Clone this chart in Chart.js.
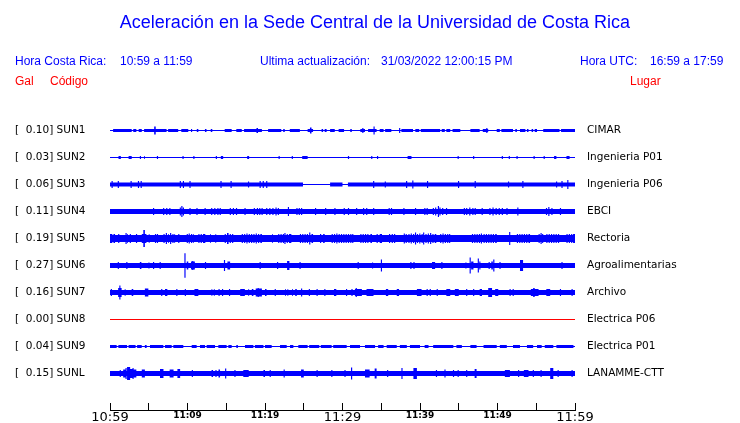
<!DOCTYPE html>
<html>
<head>
<meta charset="utf-8">
<script src="https://cdn.jsdelivr.net/npm/chart.js@4"></script>
<style>
  body { margin: 0; background: #fff; }
  #wrap { position: relative; width: 740px; height: 423px; overflow: hidden; font-family: "Liberation Sans", Arial, sans-serif; }
  #wrap canvas { position: absolute; left: 0; top: 0; }
  .t { position: absolute; white-space: pre; font-size: 12px; line-height: 12px; color: #0000ff; }
  .red { color: #ff0000; }
  #title { left: 5px; width: 740px; top: 13px; text-align: center; font-size: 18px; line-height: 18px; }
</style>
</head>
<body>
<div id="wrap">
  <canvas id="chart" width="740" height="423"></canvas>
  <div class="t" id="title">Aceleración en la Sede Central de la Universidad de Costa Rica</div>
  <div class="t" style="left:15px;top:55px">Hora Costa Rica:</div>
  <div class="t" style="left:120px;top:55px">10:59 a 11:59</div>
  <div class="t" style="left:260px;top:55px">Ultima actualización:</div>
  <div class="t" style="left:381px;top:55px">31/03/2022 12:00:15 PM</div>
  <div class="t" style="left:580px;top:55px">Hora UTC:</div>
  <div class="t" style="left:650px;top:55px">16:59 a 17:59</div>
  <div class="t red" style="left:15px;top:75px">Gal</div>
  <div class="t red" style="left:50px;top:75px">Código</div>
  <div class="t red" style="left:630px;top:75px">Lugar</div>
</div>
<script>
const stations = ["SUN1", "SUN2", "SUN3", "SUN4", "SUN5", "SUN6", "SUN7", "SUN8", "SUN9", "SUNL"];
const peaks = [0.10, 0.03, 0.06, 0.11, 0.19, 0.27, 0.16, 0.00, 0.04, 0.15];
const places = ["CIMAR", "Ingenieria P01", "Ingenieria P06", "EBCI", "Rectoria", "Agroalimentarias", "Archivo", "Electrica P06", "Electrica P01", "LANAMME-CTT"];

// minutes after 10:59 for the labelled ticks
const labelMinutes = [0, 10, 20, 30, 40, 50, 60];
const timeLabels = ["10:59", "11:09", "11:19", "11:29", "11:39", "11:49", "11:59"];
const bigMinutes = [0, 30, 60];

// background half-amplitude of each trace (gal)
const baseAmp = [0, 0, 0.044, 0.056, 0.078, 0.056, 0.056, 0, 0, 0.056];

// bursts: [start minute, end minute, half-amplitude gal]
const sun1 = [
  [0.4, 2.8, 0.033], [3.0, 3.4, 0.033], [3.7, 4.1, 0.033], [4.4, 5.7, 0.033], [5.7, 5.9, 0.089], [5.9, 7.3, 0.033],
  [7.5, 8.8, 0.033], [9.2, 10.1, 0.033], [10.45, 10.6, 0.033], [11.2, 11.4, 0.033], [12.25, 12.45, 0.033],
  [13.0, 13.2, 0.033], [14.8, 15.7, 0.033], [16.3, 17.0, 0.033], [17.3, 18.9, 0.033], [18.9, 19.1, 0.056],
  [19.1, 19.6, 0.033], [20.4, 22.1, 0.033], [22.35, 22.55, 0.033], [23.2, 24.5, 0.033], [25.5, 25.8, 0.033],
  [25.8, 26.0, 0.067], [26.0, 26.2, 0.033], [27.3, 27.5, 0.033], [27.7, 27.95, 0.033], [28.4, 29.0, 0.033],
  [29.5, 30.2, 0.033], [31.0, 31.2, 0.033], [32.3, 32.9, 0.033], [32.55, 32.7, 0.056], [33.3, 34.4, 0.033],
  [34.0, 34.15, 0.089], [34.8, 35.3, 0.033], [35.5, 36.3, 0.033], [37.3, 37.45, 0.056], [37.6, 39.1, 0.033],
  [39.4, 39.9, 0.033], [40.1, 42.6, 0.033], [42.8, 43.2, 0.033], [43.4, 43.9, 0.033], [44.2, 45.2, 0.033],
  [46.5, 47.7, 0.033], [48.1, 48.8, 0.033], [48.55, 48.7, 0.056], [49.9, 50.3, 0.033], [50.5, 52.0, 0.033],
  [52.3, 52.5, 0.033], [52.9, 53.6, 0.033], [53.8, 54.0, 0.033], [54.4, 54.6, 0.033], [54.8, 55.1, 0.033],
  [55.9, 58.0, 0.033], [58.2, 60, 0.033],
];
const sun2 = [
  [1.1, 1.4, 0.033], [2.4, 2.8, 0.033], [3.85, 4.0, 0.033], [4.4, 4.5, 0.033], [6.05, 6.2, 0.033],
  [9.35, 9.5, 0.033], [10.75, 10.9, 0.033], [13.65, 13.8, 0.033], [14.3, 14.6, 0.033], [17.7, 17.95, 0.033],
  [21.75, 21.9, 0.033], [23.45, 23.6, 0.033], [24.8, 25.5, 0.033], [30.7, 30.85, 0.033], [33.7, 33.85, 0.033],
  [34.45, 34.6, 0.033], [38.4, 38.9, 0.033], [44.85, 45.0, 0.033], [46.85, 47.0, 0.033], [50.55, 50.7, 0.033],
  [51.45, 51.6, 0.033], [52.45, 52.6, 0.033], [54.65, 54.8, 0.033], [55.95, 56.1, 0.033], [57.3, 57.6, 0.033],
  [58.9, 59.3, 0.033],
];
const sun3 = [
  [0.2, 0.35, 0.078], [1.0, 1.15, 0.078], [2.65, 2.8, 0.078], [3.6, 3.75, 0.078], [3.95, 4.1, 0.078],
  [9.0, 9.15, 0.078], [9.4, 9.55, 0.078], [10.25, 10.4, 0.078], [14.25, 14.4, 0.078], [15.55, 15.7, 0.078],
  [17.8, 17.95, 0.067], [19.3, 19.45, 0.078], [19.7, 19.85, 0.078], [20.15, 20.3, 0.078], [24.9, 28.4, 0],
  [30.0, 30.7, 0], [33.95, 34.1, 0.078], [35.45, 35.6, 0.067], [38.2, 38.35, 0.078], [39.0, 39.15, 0.089],
  [40.9, 41.05, 0.078], [44.9, 45.05, 0.078], [47.05, 47.2, 0.078], [51.35, 51.5, 0.067], [53.2, 53.35, 0.078],
  [57.55, 57.7, 0.067], [58.25, 58.4, 0.078], [59.0, 59.15, 0.1],
];
const sun4 = [
  [5.55, 5.7, 0.078], [6.85, 7.0, 0.078], [7.25, 7.4, 0.078], [7.65, 7.8, 0.078], [9.0, 9.15, 0.089],
  [9.2, 9.35, 0.122], [9.4, 9.55, 0.089], [10.25, 10.4, 0.078], [11.15, 11.3, 0.078], [12.2, 12.35, 0.078],
  [13.05, 13.2, 0.078], [13.45, 13.6, 0.078], [13.85, 14.0, 0.078], [14.15, 14.3, 0.078], [15.45, 15.6, 0.078],
  [15.85, 16.0, 0.078], [16.25, 16.4, 0.078], [17.35, 17.5, 0.078], [18.55, 18.7, 0.078], [18.95, 19.1, 0.078],
  [19.25, 19.4, 0.078], [19.55, 19.7, 0.078], [20.15, 20.3, 0.078], [20.55, 20.7, 0.078], [20.95, 21.1, 0.078],
  [21.35, 21.5, 0.089], [21.65, 21.8, 0.078], [22.95, 23.1, 0.1], [24.05, 24.2, 0.078], [24.35, 24.5, 0.078],
  [24.65, 24.8, 0.078], [26.45, 26.6, 0.078], [27.75, 27.9, 0.078], [28.95, 29.1, 0.078], [30.15, 30.3, 0.078],
  [30.7, 30.85, 0.078], [31.75, 31.9, 0.078], [32.65, 32.8, 0.078], [33.05, 33.2, 0.078], [33.95, 34.1, 0.078],
  [35.95, 36.1, 0.078], [36.25, 36.4, 0.078], [37.85, 38.0, 0.078], [39.35, 39.5, 0.078], [40.55, 40.7, 0.078],
  [40.85, 41.0, 0.078], [41.65, 41.8, 0.078], [41.95, 42.1, 0.089], [42.3, 42.45, 0.122], [42.5, 42.65, 0.089],
  [42.85, 43.0, 0.078], [43.35, 43.5, 0.078], [45.65, 45.8, 0.078], [45.95, 46.1, 0.078], [46.35, 46.5, 0.089],
  [46.75, 46.9, 0.078], [47.05, 47.2, 0.078], [47.95, 48.1, 0.078], [48.95, 49.1, 0.078], [49.35, 49.5, 0.089],
  [49.75, 49.9, 0.078], [50.15, 50.3, 0.078], [50.55, 50.7, 0.078], [51.15, 51.3, 0.078], [52.55, 52.7, 0.089],
  [56.25, 56.4, 0.078], [56.55, 56.7, 0.1], [56.95, 57.1, 0.078], [58.05, 58.2, 0.078],
];
const sun5 = [
  [0.0, 0.3, 0.1], [0.45, 0.65, 0.1], [1.05, 1.2, 0.1], [2.0, 2.15, 0.122], [2.2, 2.3, 0.1], [2.55, 2.7, 0.1],
  [3.35, 3.5, 0.1], [4.1, 4.3, 0.1], [4.3, 4.5, 0.19], [4.5, 4.7, 0.1], [5.0, 5.1, 0.1], [5.8, 5.95, 0.1],
  [6.05, 6.2, 0.1], [6.9, 7.05, 0.1], [7.2, 7.35, 0.122], [7.5, 7.6, 0.1], [7.75, 7.9, 0.122], [8.05, 8.2, 0.1],
  [8.3, 8.4, 0.1], [8.8, 8.95, 0.1], [9.9, 10.05, 0.1], [10.15, 10.3, 0.11], [10.45, 10.6, 0.1], [10.7, 10.8, 0.1],
  [11.4, 11.55, 0.1], [11.7, 11.85, 0.1], [12.0, 12.3, 0.1], [12.9, 13.0, 0.1], [13.6, 13.7, 0.1], [14.8, 14.95, 0.1],
  [15.1, 15.3, 0.122], [15.45, 15.6, 0.1], [15.75, 15.9, 0.1], [17.0, 17.15, 0.1], [17.3, 17.45, 0.1],
  [17.6, 17.75, 0.11], [17.9, 18.05, 0.1], [18.2, 18.35, 0.1], [18.5, 18.65, 0.1], [18.8, 18.95, 0.11],
  [19.1, 19.25, 0.1], [19.4, 19.6, 0.1], [20.9, 21.0, 0.1], [21.7, 21.85, 0.1], [22.0, 22.15, 0.1],
  [22.3, 22.45, 0.1], [22.5, 22.65, 0.122], [22.8, 22.95, 0.1], [23.1, 23.4, 0.1], [24.5, 24.65, 0.1],
  [24.8, 24.95, 0.1], [25.1, 25.25, 0.1], [25.4, 25.55, 0.1], [25.7, 25.85, 0.133], [26.0, 26.2, 0.1],
  [27.1, 27.25, 0.1], [27.5, 27.7, 0.1], [28.6, 28.75, 0.1], [28.9, 29.05, 0.1], [29.2, 29.35, 0.11],
  [29.5, 29.65, 0.1], [29.8, 29.95, 0.1], [30.1, 30.25, 0.1], [30.4, 30.55, 0.1], [30.7, 30.85, 0.1],
  [31.0, 31.15, 0.1], [31.25, 31.4, 0.1], [32.3, 32.45, 0.1], [32.6, 32.75, 0.1], [32.9, 33.05, 0.1],
  [33.2, 33.35, 0.1], [33.6, 33.8, 0.1], [34.4, 34.55, 0.1], [34.8, 35.1, 0.1], [36.0, 36.15, 0.1],
  [36.35, 36.5, 0.1], [36.65, 36.8, 0.1], [37.9, 38.05, 0.11], [38.15, 38.3, 0.1], [38.5, 38.65, 0.1],
  [38.8, 38.95, 0.11], [39.1, 39.25, 0.1], [39.35, 39.5, 0.133], [39.6, 39.75, 0.1], [39.9, 40.05, 0.11],
  [40.2, 40.35, 0.1], [40.4, 40.55, 0.133], [40.7, 40.85, 0.1], [41.0, 41.15, 0.11], [41.3, 41.45, 0.122],
  [41.6, 41.75, 0.1], [41.9, 42.1, 0.1], [42.6, 42.75, 0.1], [42.9, 43.05, 0.11], [43.2, 43.35, 0.1],
  [43.5, 43.65, 0.1], [43.75, 43.9, 0.1], [46.7, 46.85, 0.1], [47.0, 47.15, 0.1], [47.3, 47.45, 0.1],
  [47.6, 47.75, 0.1], [47.85, 48.0, 0.11], [48.2, 48.35, 0.1], [48.5, 48.65, 0.1], [48.8, 48.95, 0.1],
  [49.1, 49.25, 0.1], [49.4, 49.55, 0.1], [49.7, 49.9, 0.1], [51.5, 51.65, 0.144], [52.5, 52.65, 0.1],
  [52.8, 52.95, 0.1], [53.1, 53.25, 0.1], [53.4, 53.55, 0.1], [53.7, 53.85, 0.1], [54.0, 54.2, 0.1],
  [55.3, 55.45, 0.1], [55.55, 55.7, 0.122], [55.75, 55.9, 0.1], [56.3, 56.45, 0.1], [56.6, 56.75, 0.1],
  [56.9, 57.05, 0.1], [57.2, 57.35, 0.1], [57.5, 57.65, 0.1], [57.8, 57.95, 0.1], [58.9, 59.05, 0.1],
  [59.2, 59.35, 0.1], [59.5, 59.65, 0.1], [59.75, 60, 0.1],
];
const sun6 = [
  [1.0, 1.15, 0.078], [2.1, 2.25, 0.078], [3.85, 4.05, 0.078], [4.95, 5.1, 0.067], [5.55, 5.7, 0.078],
  [6.4, 6.55, 0.078], [9.6, 9.75, 0.27], [9.9, 10.1, 0.089], [10.45, 10.95, 0.089], [10.6, 10.75, 0.1],
  [12.25, 12.4, 0.078], [14.7, 14.85, 0.122], [15.15, 15.5, 0.089], [19.3, 19.45, 0.078], [21.55, 21.7, 0.078],
  [22.85, 23.15, 0.1], [24.45, 24.6, 0.078], [31.95, 32.1, 0.078], [33.8, 33.95, 0.067], [34.95, 35.1, 0.133],
  [38.75, 38.9, 0.078], [39.15, 39.3, 0.078], [41.55, 41.95, 0.078], [42.75, 42.9, 0.078], [45.85, 46.0, 0.067],
  [46.4, 46.55, 0.178], [46.6, 46.9, 0.089], [47.45, 47.6, 0.156], [47.65, 47.8, 0.089], [48.85, 49.0, 0.078],
  [49.2, 49.4, 0.089], [49.45, 49.6, 0.133], [50.25, 50.4, 0.078], [52.9, 53.3, 0.122], [58.25, 58.4, 0.078],
];
const sun7 = [
  [0.1, 0.25, 0.078], [1.05, 1.2, 0.1], [1.2, 1.35, 0.156], [1.35, 1.5, 0.1], [1.9, 2.0, 0.078], [2.8, 3.0, 0.078],
  [4.5, 4.95, 0.089], [6.6, 6.75, 0.078], [7.1, 7.4, 0.078], [8.55, 8.7, 0.078], [9.65, 9.8, 0.078],
  [10.9, 11.4, 0.078], [13.1, 13.2, 0.078], [13.4, 13.5, 0.078], [14.0, 14.15, 0.078], [14.45, 14.6, 0.078],
  [15.35, 15.5, 0.078], [16.8, 17.4, 0.078], [17.85, 17.95, 0.078], [18.3, 18.5, 0.078], [18.8, 19.6, 0.089],
  [19.05, 19.2, 0.1], [20.0, 20.2, 0.078], [21.25, 21.4, 0.078], [22.6, 22.7, 0.078], [22.9, 23.0, 0.078],
  [23.5, 23.6, 0.078], [23.9, 24.1, 0.078], [24.65, 24.8, 0.089], [25.65, 25.8, 0.078], [26.65, 26.8, 0.078],
  [27.65, 27.8, 0.078], [28.9, 29.2, 0.078], [30.45, 30.6, 0.078], [31.15, 31.3, 0.078], [31.6, 32.5, 0.078],
  [31.7, 31.85, 0.1], [33.1, 34.0, 0.078], [35.6, 35.9, 0.078], [37.0, 37.3, 0.078], [39.6, 40.2, 0.078],
  [40.85, 41.0, 0.078], [41.25, 41.4, 0.078], [42.15, 42.3, 0.078], [43.4, 43.9, 0.078], [44.5, 45.0, 0.078],
  [45.95, 46.1, 0.078], [46.85, 47.0, 0.078], [47.7, 48.0, 0.078], [48.8, 49.3, 0.1], [49.7, 50.1, 0.078],
  [51.55, 51.7, 0.078], [51.95, 52.1, 0.078], [54.3, 55.3, 0.078], [54.6, 54.8, 0.1], [56.3, 56.8, 0.078],
  [58.05, 58.2, 0.078], [59.55, 59.7, 0.078],
];
const sun8 = [];
const sun9 = [
  [0, 0.86, 0.033], [1.08, 2.2, 0.033], [2.4, 3.3, 0.033], [3.5, 4.09, 0.033], [4.5, 4.73, 0.033],
  [5.16, 6.88, 0.033], [7.1, 7.96, 0.033], [8.17, 9.46, 0.033], [10.54, 11.18, 0.033], [11.61, 12.26, 0.033],
  [12.47, 13.55, 0.033], [13.98, 15.05, 0.033], [15.27, 15.7, 0.033], [16.3, 16.5, 0.033], [17.42, 18.5, 0.033],
  [18.7, 19.8, 0.033], [20.0, 20.86, 0.033], [21.94, 22.8, 0.033], [23.23, 23.66, 0.033], [24.3, 25.5, 0.033],
  [25.7, 27.0, 0.033], [27.2, 28.6, 0.033], [28.8, 30.54, 0.033], [30.97, 32.26, 0.033], [32.9, 34.2, 0.033],
  [34.6, 35.3, 0.033], [35.7, 37.0, 0.033], [37.4, 38.3, 0.033], [38.7, 40.0, 0.033], [40.6, 41.1, 0.033],
  [41.7, 44.3, 0.033], [44.7, 45.4, 0.033], [46.5, 47.3, 0.033], [48.2, 49.9, 0.033], [50.3, 51.2, 0.033],
  [52.0, 52.9, 0.033], [53.8, 54.6, 0.033], [55.1, 55.7, 0.033], [56.1, 57.2, 0.033], [57.6, 59.8, 0.033],
];
const sunL = [
  [1.25, 1.4, 0.078], [1.7, 2.0, 0.089], [2.0, 2.15, 0.122], [2.2, 2.6, 0.144], [2.6, 2.9, 0.1], [2.9, 3.05, 0.122],
  [3.05, 3.4, 0.089], [4.1, 4.5, 0.089], [6.45, 6.9, 0.1], [7.7, 8.2, 0.089], [8.7, 9.05, 0.1], [10.55, 10.7, 0.078],
  [13.1, 13.3, 0.078], [13.6, 13.75, 0.078], [14.0, 14.2, 0.089], [14.85, 15.0, 0.11], [16.05, 16.2, 0.078],
  [17.2, 17.9, 0.078], [19.8, 20.0, 0.078], [20.6, 20.75, 0.078], [22.4, 22.55, 0.089], [24.65, 25.0, 0.089],
  [26.65, 26.8, 0.078], [28.55, 28.7, 0.078], [30.25, 30.4, 0.078], [31.1, 31.25, 0.133], [32.9, 33.5, 0.089],
  [34.15, 34.4, 0.11], [35.75, 35.9, 0.078], [37.6, 37.75, 0.122], [39.15, 39.6, 0.122], [42.05, 42.2, 0.078],
  [43.15, 43.3, 0.089], [44.25, 44.4, 0.078], [44.85, 45.0, 0.078], [45.95, 46.1, 0.078], [47.05, 47.3, 0.1],
  [50.95, 51.6, 0.078], [52.65, 52.8, 0.078], [53.4, 54.0, 0.078], [54.55, 54.7, 0.078], [55.55, 55.7, 0.078],
  [56.8, 57.2, 0.122], [57.75, 57.9, 0.078], [59.55, 59.7, 0.078],
];
const bursts = [sun1, sun2, sun3, sun4, sun5, sun6, sun7, sun8, sun9, sunL];

const GAP = 0.6;          // gal between trace baselines
const PX = GAP / 27;      // gal per screen pixel
const yMax = 27.5 * PX;
const yMin = yMax - 307 * PX;

// turn burst list into a step envelope [[minute, amp], ...]
function envelope(base, list) {
  const edges = [0, 60];
  list.forEach(([s, e]) => edges.push(s, e));
  const xs = [...new Set(edges)].sort((a, b) => a - b);
  const out = [];
  for (let k = 0; k < xs.length - 1; k++) {
    const mid = (xs[k] + xs[k + 1]) / 2;
    const hits = list.filter(([s, e]) => s <= mid && mid < e).map((b) => b[2]);
    out.push([xs[k], hits.length ? Math.max(...hits) : base]);
  }
  out.push([60, out[out.length - 1][1]]);
  return out;
}

const datasets = [];
stations.forEach((name, i) => {
  const c = -GAP * i;
  const color = peaks[i] > 0 ? "#0000ff" : "#ff0000";
  const env = envelope(baseAmp[i], bursts[i]);
  datasets.push({
    label: name, data: env.map(([m, a]) => ({ x: m, y: c + a })),
    stepped: true, borderWidth: 0, borderColor: "transparent", pointRadius: 0, fill: false, backgroundColor: color,
  });
  datasets.push({
    label: name, data: env.map(([m, a]) => ({ x: m, y: c - a })),
    stepped: true, borderWidth: 0, borderColor: "transparent", pointRadius: 0, fill: "-1", backgroundColor: color,
  });
  datasets.push({
    label: name, data: [{ x: 0, y: c }, { x: 60, y: c }],
    borderWidth: 1, borderColor: color, backgroundColor: color, pointRadius: 0, fill: false,
  });
});

const traceTicks = (scale) => {
  scale.ticks = stations.map((_, i) => ({ value: -GAP * i }));
};
const traceIndex = (v) => Math.round(-v / GAP);

new Chart(document.getElementById("chart"), {
  type: "line",
  data: { datasets },
  options: {
    responsive: false,
    animation: false,
    events: [],
    layout: { padding: { top: 103, left: 15, right: 0, bottom: 0 }, autoPadding: false },
    plugins: { legend: { display: false }, tooltip: { enabled: false } },
    scales: {
      x: {
        type: "linear", position: "bottom", min: 0, max: 60,
        afterFit: (scale) => { scale.height = 13; },
        grid: { drawOnChartArea: false, drawTicks: true, tickLength: -7, color: "#000", lineWidth: 1 },
        border: { display: true, color: "#000", width: 1 },
        ticks: {
          stepSize: 5, autoSkip: false, maxRotation: 0, minRotation: 0, color: "#000", padding: 7,
          font: (ctx) => {
            const big = ctx.tick && bigMinutes.includes(ctx.tick.value);
            return { family: "DejaVu Sans", size: big ? 13 : 9, weight: big ? "normal" : "bold" };
          },
          callback: (v) => {
            const k = labelMinutes.indexOf(v);
            return k >= 0 ? timeLabels[k] : "";
          },
        },
      },
      y: {
        type: "linear", position: "left", min: yMin, max: yMax,
        afterFit: (scale) => { scale.width = 95; },
        afterBuildTicks: traceTicks,
        grid: { display: false, drawTicks: false },
        border: { display: false },
        ticks: {
          autoSkip: false, crossAlign: "far", padding: 0, color: "#000",
          font: { family: "DejaVu Sans", size: 10.5 },
          callback: (v) => {
            const i = traceIndex(v);
            return `[  ${peaks[i].toFixed(2)}] ${stations[i]}`;
          },
        },
      },
      y2: {
        type: "linear", position: "right", min: yMin, max: yMax,
        afterFit: (scale) => { scale.width = 165; },
        afterBuildTicks: traceTicks,
        grid: { display: false, drawTicks: true, tickLength: 12 },
        border: { display: false },
        ticks: {
          autoSkip: false, crossAlign: "near", padding: 0, color: "#000",
          font: { family: "DejaVu Sans", size: 10.5 },
          callback: (v) => places[traceIndex(v)],
        },
      },
    },
  },
});
</script>
</body>
</html>
